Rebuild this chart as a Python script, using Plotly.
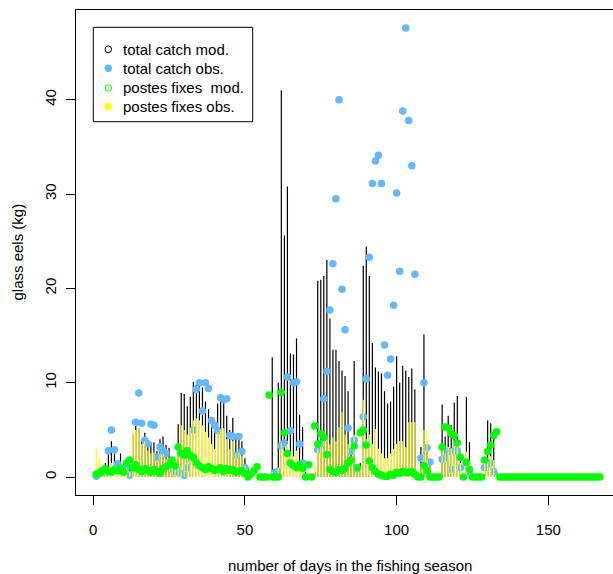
import plotly.graph_objects as go

# ---------------- data ----------------
days = list(range(1, 168))

# total catch model (black vertical lines), days 1..134
total_mod = [
    0.6, 0.8, 1.0, 1.5, 2.8, 3.8, 2.5, 1.8, 2.5, 1.5, 2.0, 1.2,
    4.5, 5.8, 5.2, 4.0, 4.7, 3.9, 3.7, 3.7, 2.8, 4.0, 4.3, 3.4, 3.1, 2.0, 1.5,
    5.6, 8.9, 8.8, 7.5, 8.5, 10.1, 9.8, 10.2, 9.5, 8.0, 7.2, 6.0, 5.5, 7.8, 8.7,
    8.5, 6.5, 5.0, 6.3, 4.0, 4.5, 3.8, 2.0,
    1.0, 0.5, 0.0, 0.0, 0.0, 0.0, 0.0, 0.0,
    12.7, 0.3, 10.0, 41.0, 25.6, 30.8, 13.1, 13.0, 14.7, 6.6, 5.3, 0.5, 0.3, 0.2,
    0.5, 20.8, 20.9, 21.3, 23.0, 16.8, 13.5, 13.5, 12.3, 11.3, 10.7, 9.1, 3.0, 12.3, 1.0,
    1.5, 22.4, 24.4, 21.3, 14.2, 11.6, 11.2, 11.0, 9.1, 7.8, 8.0, 9.6, 12.8, 10.0,
    11.8, 11.3, 10.6, 11.5, 9.3, 0.5, 3.2, 15.1, 3.5,
    1.8, 0.2, 0.0, 0.1, 7.7, 4.3, 6.5, 5.5, 7.9, 8.6, 2.5, 0.3, 8.5, 3.7, 0.2,
    0.0, 0.0, 0.3, 2.0, 6.0, 5.7, 5.0, 0.5, 0.0,
] + [0.0] * 33

# postes fixes (yellow vertical lines)
pf_lines = [
    3.0, 2.1, 1.0, 1.2, 1.0, 1.5, 1.0, 0.8, 1.2, 0.8, 1.0, 0.6,
    4.8, 5.0, 5.2, 3.5, 3.8, 2.8, 2.5, 2.6, 1.8, 2.5, 2.4, 2.0, 2.0, 1.0, 0.8,
    3.0, 5.5, 5.0, 4.5, 5.2, 6.0, 6.2, 6.0, 5.5, 4.8, 4.2, 3.5, 3.0, 4.8, 5.0,
    5.2, 4.0, 3.0, 3.8, 2.5, 2.6, 2.2, 1.2,
    0.6, 0.3, 0.5, 0.8, 0.0, 0.0, 0.0, 0.0,
    0.5, 0.2, 1.0, 3.6, 2.8, 3.5, 2.5, 2.2, 2.8, 1.2, 0.8, 0.3, 0.5, 0.2,
    1.2, 3.0, 3.5, 4.0, 4.2, 3.5, 4.2, 3.8, 5.3, 6.9, 4.5, 3.5, 1.5, 4.5, 1.0,
    1.0, 8.2, 4.0, 4.5, 3.5, 5.1, 3.0, 2.5, 2.0, 2.0, 2.5, 3.0, 3.5, 3.8,
    3.8, 3.2, 5.8, 5.8, 5.8, 0.5, 1.5, 5.0, 5.0,
    1.2, 0.0, 0.0, 0.0, 3.5, 2.5, 3.2, 3.0, 3.5, 3.8, 1.5, 0.2, 2.7, 1.5, 0.0,
    0.0, 0.0, 0.2, 1.5, 2.0, 2.2, 1.8, 0.3, 0.0,
] + [0.0] * 33

# total catch observed (blue points); None = no observation
N = None
total_obs = [
    0.1, 0.5, 0.6, 0.4, 2.8, 5.0, 2.9, 1.4, 0.8, 0.9, 1.0, 0.2,
    0.9, 5.8, 8.9, 5.7, 3.9, 3.5, 5.6, 5.5, 2.1, 3.2, 2.8, 2.5, 1.5, 0.8, 0.5,
    0.7, 0.4, 0.2, 1.0, 2.0, 5.0, 9.3, 10.0, 7.0, 10.0, 9.4, 6.0, 5.5, 4.9, 8.4,
    8.2, 8.3, 4.4, 4.3, 2.3, 4.3, 2.7, 1.0,
    0.3, N, N, N, N, N, N, N,
    N, 0.5, 0.6, 3.3, 3.6, 10.6, 4.9, 10.0, 10.1, 3.5, 1.5, N, N, N,
    N, 2.9, 3.5, 8.3, 11.2, 17.7, 22.6, 29.5, 40.0, 19.9, 15.6, 5.2, 2.7, 3.9, 0.9,
    N, 6.4, 10.4, 23.3, 31.1, 33.5, 34.1, 31.1, 14.0, 10.8, 12.5, 18.2, 30.1, 21.8,
    38.8, 47.6, 37.8, 33.0, 21.5, N, 2.0, 10.0, 3.1,
    1.6, N, N, N, 1.9, 2.0, 2.7, 0.8, 2.8, 2.8, 1.0, N, 1.5, 0.4, N,
    N, N, N, 1.0, 1.4, 1.5, 0.6, N, N,
] + [N] * 33

# postes fixes (green points)
pf_points = [
    0.3, 0.4, 0.7, 0.9, 0.6, 0.5, 0.8, 0.7, 0.9, 0.5, 1.5, 1.8,
    1.0, 1.3, 0.8, 0.6, 0.9, 0.7, 0.5, 0.8, 0.6, 0.4, 0.9, 1.1, 1.3, 1.8, 1.2,
    3.2, 2.5, 2.3, 2.8, 2.3, 2.1, 1.5, 1.2, 1.0, 0.8, 1.1, 0.9, 0.7, 0.8, 1.0,
    0.6, 0.9, 0.7, 0.8, 0.5, 0.6, 0.7, 0.4,
    0.0, 0.3, 0.7, 1.1, 0.0, 0.0, 0.0, 8.7,
    0.0, 0.0, 0.0, 9.0, 4.7, 2.5, 1.5, 1.2, 1.0, 1.3, 0.9, 0.0, 1.3, 0.0,
    5.4, 3.5, 4.6, 4.2, 2.4, 0.8, 0.6, 0.5, 0.8, 0.7, 0.9, 1.5, 1.8, 3.3, 1.0,
    4.7, 5.0, 3.4, 1.7, 1.0, 0.6, 0.3, 0.2, 0.1, 0.1, 0.3, 0.2, 0.5, 0.4,
    0.6, 0.5, 0.5, 0.6, 0.3, 0.0, 0.0, 1.2, 0.7,
    0.0, 0.0, 0.0, 0.0, 3.2, 5.3, 5.2, 4.6, 4.4, 3.6, 2.1, 0.0, 1.6, 0.8, 0.0,
    0.0, 0.0, 0.0, 1.8, 2.7, 3.4, 4.4, 4.8, 0.0,
] + [0.0] * 33

x_ticks = [0, 50, 100, 150]
y_ticks = [0, 10, 20, 30, 40]
x_title = "number of days in the fishing season"
y_title = "glass eels (kg)"
legend_labels = ["total catch mod.", "total catch obs.",
                 "postes fixes\u00a0 mod.", "postes fixes obs."]

BLUE = "#63B8FF"
GREEN = "#00FF00"
YELLOW = "#FFFF00"
FONT = "Liberation Sans, Arial, sans-serif"


def spikes(xs, ys):
    """Vertical lines from 0 to value (R type='h')."""
    sx, sy = [], []
    for d, v in zip(xs, ys):
        if v is None or v <= 0:
            continue
        sx += [d, d, None]
        sy += [0, v, None]
    return sx, sy


fig = go.Figure()

bx, by = spikes(days, total_mod)
fig.add_trace(go.Scatter(x=bx, y=by, mode="lines",
                         line=dict(color="black", width=1.2),
                         showlegend=False, hoverinfo="skip"))

fig.add_trace(go.Scatter(x=days, y=total_obs, mode="markers",
                         marker=dict(color=BLUE, size=7.5, line=dict(width=0)),
                         showlegend=False))

yx, yy = spikes(days, pf_lines)
fig.add_trace(go.Scatter(x=yx, y=yy, mode="lines",
                         line=dict(color=YELLOW, width=1.2),
                         showlegend=False, hoverinfo="skip"))

fig.add_trace(go.Scatter(x=days, y=pf_points, mode="markers",
                         marker=dict(color=GREEN, size=7.5, line=dict(width=0)),
                         showlegend=False))

# ---------------- layout ----------------
W, H = 613, 574
L, R, T, B = 76, 0, 10, 79
pw, ph = W - L - R, H - T - B


def px(xp):
    return (xp - L) / pw


def py(yp):
    return (H - B - yp) / ph


shapes = []
annotations = []

# legend box
shapes.append(dict(type="rect", xref="paper", yref="paper",
                   x0=px(93.3), x1=px(252.7), y0=py(121.7), y1=py(27.3),
                   line=dict(color="black", width=1), fillcolor="white",
                   layer="above"))
rows = [49.3, 68.3, 88.0, 106.5]
sym = [("rgba(0,0,0,0)", "black"), (BLUE, BLUE),
       ("rgba(0,0,0,0)", GREEN), (YELLOW, YELLOW)]
for (fill, edge), yr, lab in zip(sym, rows, legend_labels):
    shapes.append(dict(type="circle", xref="paper", yref="paper",
                       xsizemode="pixel", ysizemode="pixel",
                       xanchor=px(108.3), yanchor=py(yr),
                       x0=-3.3, x1=3.3, y0=-3.3, y1=3.3,
                       fillcolor=fill, line=dict(color=edge, width=1),
                       layer="above"))
    annotations.append(dict(text=lab, xref="paper", yref="paper",
                            x=px(120.5), y=py(yr), xanchor="left",
                            yanchor="middle", showarrow=False,
                            font=dict(family=FONT, size=15, color="black")))

# axis titles
annotations.append(dict(text=x_title, xref="paper", yref="paper",
                        x=px(349.7), y=0, yanchor="middle", xanchor="center",
                        yshift=-(565 - (H - B)), showarrow=False,
                        font=dict(family=FONT, size=15, color="black")))
annotations.append(dict(text=y_title, xref="paper", yref="paper",
                        x=0, y=0.5, xanchor="center", yanchor="middle",
                        xshift=-(L - 17), textangle=-90, showarrow=False,
                        font=dict(family=FONT, size=15, color="black")))

fig.update_layout(
    width=W, height=H,
    margin=dict(l=L, r=R, t=T, b=B, pad=0),
    paper_bgcolor="white", plot_bgcolor="white",
    showlegend=False,
    font=dict(family=FONT, size=15, color="black"),
    shapes=shapes, annotations=annotations,
    xaxis=dict(range=[-5.68, -5.68 + pw / 3.034], tickvals=x_ticks,
               showgrid=False, zeroline=False,
               showline=True, linecolor="black", linewidth=1, mirror=True,
               ticks="outside", ticklen=9, tickcolor="black", tickwidth=1,
               ticklabelstandoff=12,
               tickfont=dict(family=FONT, size=15, color="black")),
    yaxis=dict(range=[-1.9, 49.5], tickvals=y_ticks,
               showgrid=False, zeroline=False,
               showline=True, linecolor="black", linewidth=1, mirror=False,
               ticks="outside", ticklen=9, tickcolor="black", tickwidth=1,
               tickangle=-90, ticklabelstandoff=4,
               tickfont=dict(family=FONT, size=15, color="black")),
)

fig.write_html("out.html")
